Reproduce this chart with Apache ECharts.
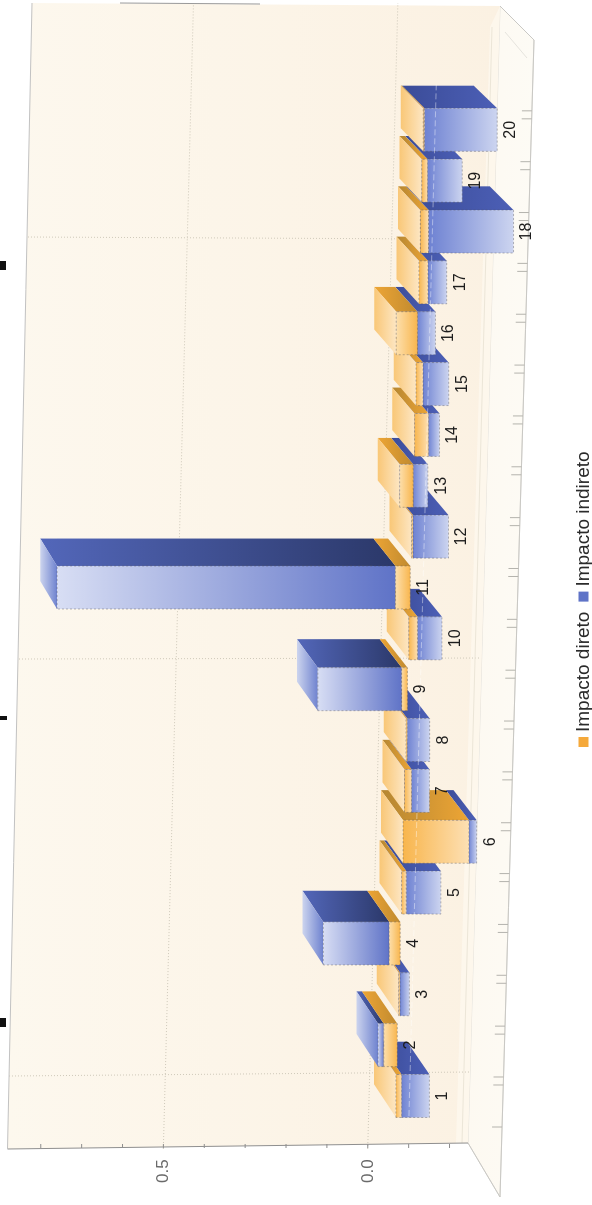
<!DOCTYPE html>
<html>
<head>
<meta charset="utf-8">
<style>
html,body{margin:0;padding:0;width:592px;height:1205px;overflow:hidden;background:#fff}
#chart{position:absolute;left:0;top:0;width:1205px;height:592px;transform-origin:0 0;transform:translate(0,1205px) rotate(-90deg)}
</style>
<script src="https://cdn.jsdelivr.net/npm/echarts@6/dist/echarts.min.js"></script>
</head>
<body>
<div id="chart"></div>
<script>
const categories = ['1','2','3','4','5','6','7','8','9','10','11','12','13','14','15','16','17','18','19','20'];
const impactoDireto = [-0.014,0.033,-0.003,0.027,-0.011,-0.161,-0.017,-0.003,0.014,-0.021,0.036,-0.003,0.033,-0.034,-0.017,0.052,-0.022,-0.02,-0.014,-0.003];
const impactoIndireto = [-0.068,0.014,-0.023,0.161,-0.085,-0.019,-0.044,-0.055,0.205,-0.06,0.828,-0.087,-0.036,-0.027,-0.063,-0.044,-0.046,-0.208,-0.085,-0.178];
const valueTicks = [0,0.5];
const seriesNames = ['Impacto direto','Impacto indireto'];
const seriesColors = ['#f5a93b','#5f73c7'];

const HALF = 21.5;
function front(api,k,val){
  const c = api.coord([k,val]);
  return [c[0], c[1] + 28 + 0.0283*(c[0]-109)];
}
function back(p){
  return [p[0] + 33 - 0.0105*(p[0]-109), p[1] - 16 - 0.015*p[1]];
}
function grad(x2,y2,a,b){
  return {type:'linear',x:0,y:0,x2:x2,y2:y2,colorStops:[{offset:0,color:a},{offset:1,color:b}]};
}
function poly(points,fill,z2,extra){
  return {type:'polygon',shape:{points:points},z2:z2,style:Object.assign({fill:fill},extra||{})};
}
function renderBar(isBlue){
  return function(params,api){
    const k = api.value(0), a = api.value(1), b = api.value(2);
    if (a === b) return {type:'group',children:[]};
    const hi = Math.max(a,b), lo = Math.min(a,b), positive = hi > 0 && lo >= 0;
    const ph = front(api,k,hi), pl = front(api,k,lo);
    const u = ph[0], vT = ph[1], vB = pl[1];
    const L = u-HALF, R = u+HALF;
    const layer = (k+1)*10 + (isBlue ? 0 : 2);
    const frontFill = isBlue
      ? (positive ? grad(0,1,'#d8def4','#5f73c7') : grad(0,1,'#6d81d2','#cdd5f0'))
      : (positive ? grad(0,1,'#fde0ae','#f8b54c') : grad(0,1,'#f8b54c','#fde0b4'));
    const sideFill = isBlue
      ? (positive ? grad(0,1,'#5367ba','#2b3869') : grad(0,1,'#3b4c98','#4c5fb6'))
      : (positive ? grad(0,1,'#eda535','#c08a2f') : grad(0,1,'#b58631','#eda535'));
    const capFill = isBlue ? grad(0,1,'#ccd4ee','#6e82cf') : grad(0,1,'#f9c777','#fde6c2');
    const coveredByIndirect = !isBlue && impactoDireto[k]*impactoIndireto[k] > 0 && impactoDireto[k] > 0;
    const children = [
      poly([[R,vT],[R,vB],back([R,vB]),back([R,vT])],sideFill,layer+1),
      poly([[L,vT],[R,vT],[R,vB],[L,vB]],frontFill,1000+(isBlue?0:1),
        {stroke:'rgba(80,80,90,0.5)',lineWidth:0.8,lineDash:[2,2]})
    ];
    if (!coveredByIndirect) {
      children.push(poly([[L,vT],[R,vT],back([R,vT]),back([L,vT])],capFill,layer+2));
    }
    return {type:'group',children:children};
  };
}
function renderLabel(params,api){
  const k = api.value(0), low = api.value(1);
  const p = front(api,k,low);
  const children = [{type:'text',z2:2000,style:{text:categories[k],x:p[0],y:p[1]+13.5,align:'center',verticalAlign:'middle',
    fontFamily:'"Liberation Sans",Arial,sans-serif',fontSize:16,fill:'#1c1c1c'}}];
  if (k === 0) {
    const s = front(api,0,-0.032), e = front(api,19,-0.032);
    children.push({type:'line',z2:1500,shape:{x1:s[0]-20,y1:s[1],x2:e[0]+46,y2:e[1]},
      style:{stroke:'rgba(255,255,255,0.42)',lineWidth:1,lineDash:[6,3]}});
  }
  return {type:'group',children:children};
}
function renderFrame(params,api){
  const at = function(val){ return api.coord([0,val])[1]; };
  const backV = function(val,u){ return at(val) + 0.0263*(u-62); };
  const ch = [];
  const dotted = {stroke:'#cfc9ba',lineWidth:1,lineDash:[1,2]};
  ch.push(poly([[8,500],[62,468],[1199,500],[1165,534]],grad(0,1,'#fdf9f1','#fdfbf5'),0,{stroke:'#e2e0da',lineWidth:1}));
  ch.push(poly([[56,7.5],[1202,32],[1199,500],[62,468]],grad(0,1,'#fdf8ee','#fbf1e2'),1));
  ch.push(poly([[62,456],[1178,490],[1199,500],[62,468]],'rgba(255,252,244,0.55)',2));
  ch.push({type:'polyline',z2:3,shape:{points:[[62,468],[8,500],[1165,534],[1199,500]]},style:{fill:null,stroke:'#c9c8c4',lineWidth:1}});
  ch.push({type:'line',z2:3,shape:{x1:1173,y1:505,x2:1147,y2:527},style:{stroke:'#e6e4de',lineWidth:1}});
  // value gridlines on the back wall
  valueTicks.forEach(function(t){
    ch.push({type:'line',z2:3,shape:{x1:56,y1:backV(t,56),x2:1202,y2:backV(t,1202)},style:dotted});
  });
  // category gridlines on the back wall
  [[129,133,9,470],[546,547,19,481],[968,966,28,446]].forEach(function(g){
    ch.push({type:'line',z2:3,shape:{x1:g[0],y1:g[2],x2:g[1],y2:g[3]},style:dotted});
  });
  // minor ticks on the wall base
  for (let i=-2;i<=8;i++){
    const t = i/10, v = backV(t,58);
    ch.push({type:'line',z2:4,shape:{x1:57,y1:v,x2:61,y2:v},style:{stroke:'#8d8d8d',lineWidth:1}});
  }
  // wall edges
  ch.push({type:'line',z2:4,shape:{x1:56,y1:7.5,x2:62,y2:468},style:{stroke:'#8f8f8f',lineWidth:1}});
  ch.push({type:'line',z2:4,shape:{x1:56,y1:7.5,x2:1202,y2:32},style:{stroke:'#c2c2c2',lineWidth:1}});
  ch.push({type:'line',z2:4,shape:{x1:1202,y1:120,x2:1201,y2:260},style:{stroke:'#9a9a9a',lineWidth:1}});
  ch.push({type:'line',z2:3,shape:{x1:62,y1:462,x2:1178,y2:492},style:{stroke:'#ece6d8',lineWidth:1}});
  // category ticks on the front edge of the floor
  const edge = function(u){ return 500 + (u-8)*0.0294; };
  const tickAt = function(u){
    const v = edge(u);
    ch.push({type:'line',z2:4,shape:{x1:u,y1:v-10,x2:u,y2:v},style:{stroke:'#b4b3ad',lineWidth:1}});
  };
  tickAt(78);
  categories.forEach(function(c,k){
    const u = api.coord([k,0])[0];
    tickAt(u+11); tickAt(u+19);
  });
  // clipped pieces of the cropped title
  [[935,0,9,6],[485,0,4,7],[178,0,9,6]].forEach(function(m){
    ch.push({type:'rect',z2:4,shape:{x:m[0],y:m[1],width:m[2],height:m[3]},style:{fill:'#111'}});
  });
  return {type:'group',children:ch};
}

const directData = categories.map(function(c,i){ return [i,0,impactoDireto[i]]; });
const indirectData = categories.map(function(c,i){
  const d = impactoDireto[i], b = impactoIndireto[i];
  const start = d*b > 0 ? d : 0;
  return [i,start,start+b];
});
const labelData = categories.map(function(c,i){
  const d = impactoDireto[i], b = impactoIndireto[i];
  const start = d*b > 0 ? d : 0;
  return [i,Math.min(0,d,start+b)];
});

const chart = echarts.init(document.getElementById('chart'),null,{renderer:'canvas'});
chart.setOption({
  animation:false,
  backgroundColor:'#ffffff',
  grid:{left:83.6,width:1017,top:-7.5,height:498,containLabel:false},
  xAxis:{type:'category',data:categories,show:false},
  yAxis:{type:'value',min:-0.3,max:0.9,
    axisLine:{show:false},axisTick:{show:false},splitLine:{show:false},
    axisLabel:{customValues:valueTicks,margin:38,fontSize:17,color:'#6a6a6a',
      fontFamily:'"Liberation Sans",Arial,sans-serif',
      formatter:function(v){return v.toFixed(1);}}},
  legend:{data:seriesNames,left:453,top:569,itemWidth:10,itemHeight:10,itemGap:10,icon:'rect',
    textStyle:{fontSize:19,color:'#2a2a2a',fontFamily:'"Liberation Sans",Arial,sans-serif'}},
  series:[
    {type:'custom',name:'frame',z:1,silent:true,data:[[0,0]],renderItem:renderFrame},
    {type:'custom',name:seriesNames[1],z:2,silent:true,data:indirectData,itemStyle:{color:seriesColors[1]},renderItem:renderBar(true)},
    {type:'custom',name:seriesNames[0],z:2,silent:true,data:directData,itemStyle:{color:seriesColors[0]},renderItem:renderBar(false)},
    {type:'custom',name:'labels',z:3,silent:true,data:labelData,renderItem:renderLabel}
  ]
});
</script>
</body>
</html>
